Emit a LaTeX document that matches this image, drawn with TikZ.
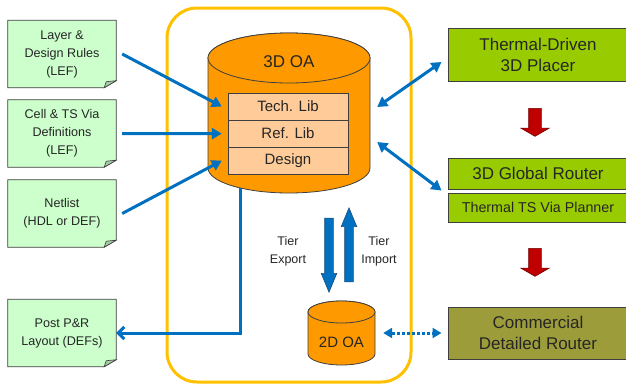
\documentclass[tikz,border=0pt]{standalone}
\usepackage{fontspec}
\setmainfont{Liberation Sans}
\usetikzlibrary{positioning,shapes.arrows,arrows.meta,backgrounds}
\definecolor{linegray}{HTML}{3F3F3F}
\definecolor{notegreen}{HTML}{CCFFCC}
\definecolor{foldgreen}{HTML}{A6CCA6}
\definecolor{oaorange}{HTML}{FF9900}
\definecolor{libfill}{HTML}{FFCC99}
\definecolor{framegold}{HTML}{FFC000}
\definecolor{flowblue}{HTML}{0070C0}
\definecolor{tooldark}{HTML}{1F4E79}
\definecolor{toolgreen}{HTML}{99CC00}
\definecolor{toololive}{HTML}{9C9C3A}
\definecolor{stepred}{HTML}{C00000}
\begin{document}
\begin{tikzpicture}[x=1pt,y=-1pt,
    note/.style={minimum width=108pt,minimum height=67pt,inner sep=0pt,align=center,
        text=black!85,font=\fontsize{12.6}{18}\selectfont},
    lib/.style={draw=linegray,fill=libfill,minimum width=120pt,minimum height=26.7pt,
        inner sep=0pt,text=black!85,font=\fontsize{15}{18}\selectfont},
    cyl/.style={draw=linegray,fill=oaorange,line width=0.8pt},
    toolbox/.style={draw=linegray,line width=1pt,fill=toolgreen,minimum width=180pt,
        inner sep=0pt,align=center,text=black!85,font=\fontsize{17}{21}\selectfont},
    flow/.style={draw=flowblue,line width=3pt,-{Triangle[length=10pt,width=11pt]}},
    tierarrow/.style={single arrow,draw=tooldark,fill=flowblue,line width=0.6pt,
        minimum height=74pt,inner xsep=0pt,inner ysep=4pt,
        single arrow head extend=3.5pt,single arrow tip angle=45},
    stepdown/.style={single arrow,draw=stepred!60!black,fill=stepred,line width=0.6pt,
        minimum height=28pt,inner xsep=0pt,inner ysep=6pt,
        single arrow head extend=8pt,single arrow tip angle=120,rotate=-90},
    tierlabel/.style={align=center,inner sep=0pt,text=black!85,font=\fontsize{12.5}{18}\selectfont}]
\useasboundingbox (0,0) rectangle (626,386);

% input and output files
\node[note] (layer) at (62,54) {Layer \&\\Design Rules\\(LEF)};
\node[note] (cell) at (62,133.5) {Cell \& TS Via\\Definitions\\(LEF)};
\node[note] (netlist) at (62,213.5) {Netlist\\(HDL or DEF)};
\node[note] (post) at (62,333) {Post P\&R\\Layout (DEFs)};
\begin{scope}[on background layer]
\foreach \n in {layer,cell,netlist,post} {
    \draw[draw=linegray,fill=notegreen,line width=0.8pt] (\n.north west) -- (\n.north east)
        -- ([yshift=7pt]\n.south east) -- ([xshift=-12pt]\n.south east) -- (\n.south west) -- cycle;
    \draw[draw=linegray,fill=foldgreen,line width=0.6pt] ([yshift=7pt]\n.south east)
        -- ([xshift=-12pt]\n.south east) -- ([xshift=-10pt,yshift=6pt]\n.south east) -- cycle;
}
\end{scope}

% OA frame
\draw[framegold,line width=3pt,rounded corners=30pt] (167,8) rectangle (411,382);

% 3D OA database
\draw[cyl] (208,58) -- (208,168) arc[start angle=180,end angle=360,x radius=81pt,y radius=25pt]
    -- (370,58) arc[start angle=0,end angle=180,x radius=81pt,y radius=25pt] -- cycle;
\draw[cyl] (289,58) ellipse [x radius=81pt,y radius=25pt];
\node[minimum width=162pt,minimum height=160pt] (oa3) at (289,113) {};
\node[text=black!85,font=\fontsize{17}{20}\selectfont] (oa3lbl) at (289,62) {3D OA};
\node[lib] (tech) at (288,106.5) {Tech. Lib};
\node[lib,below=0pt of tech] (ref) {Ref. Lib};
\node[lib,below=0pt of ref] (design) {Design};

% 2D OA database
\draw[cyl] (308,312) -- (308,354) arc[start angle=180,end angle=360,x radius=33.5pt,y radius=11pt]
    -- (375,312) arc[start angle=0,end angle=180,x radius=33.5pt,y radius=11pt] -- cycle;
\draw[cyl] (341.5,312) ellipse [x radius=33.5pt,y radius=11pt];
\node[minimum width=67pt,minimum height=64pt] (oa2) at (341.5,333) {};
\node[text=black!85,font=\fontsize{15}{18}\selectfont] (oa2lbl) at (341.5,342) {2D OA};

% tier export / import
\node[tierarrow,rotate=-90] (export) at (329,250) {};
\node[tierarrow,rotate=90] (import) at (349,250) {};
\node[tierlabel] (exportlbl) at (288,251) {Tier\\Export};
\node[tierlabel] (importlbl) at (379,251) {Tier\\Import};

% tools
\node[toolbox,minimum height=53pt] (placer) at (538,54.5) {Thermal-Driven\\3D Placer};
\node[toolbox,minimum height=31pt] (router) at (538,173.5) {3D Global Router};
\node[toolbox,minimum height=29pt,font=\fontsize{14.3}{17}\selectfont,below=3pt of router] (planner) {Thermal TS Via Planner};
\node[toolbox,fill=toololive,minimum height=52pt] (detail) at (538,333) {Commercial\\Detailed Router};
\node[stepdown] (step1) at (535,120.5) {};
\node[stepdown] (step2) at (535,260.5) {};

% data flow
\draw[flow] ([xshift=6pt]layer.east) -- ([xshift=-6pt]tech.west);
\draw[flow] ([xshift=6pt]cell.east) -- ([xshift=-6pt]ref.west);
\draw[flow] ([xshift=6pt]netlist.east) -- ([xshift=-6pt]design.west);
\draw[flow,{Triangle[length=10pt,width=11pt]}-{Triangle[length=10pt,width=11pt]}]
    ([xshift=7pt,yshift=6pt]oa3.east) -- ([xshift=-6pt,yshift=-7.5pt]placer.west);
\draw[flow,{Triangle[length=10pt,width=11pt]}-{Triangle[length=10pt,width=11pt]}]
    ([xshift=7pt,yshift=-29pt]oa3.east) -- ([xshift=-6pt,yshift=-1pt]router.south west);
\draw[flow,-{Straight Barb[length=6pt,width=12pt]}] ([xshift=-49pt,yshift=5pt]oa3.south) |- (post.east);
\draw[flow,dotted,{Triangle[length=9pt,width=10pt]}-{Triangle[length=9pt,width=10pt]}]
    ([xshift=8pt]oa2.east) -- ([xshift=-6pt]detail.west);
\end{tikzpicture}
\end{document}
